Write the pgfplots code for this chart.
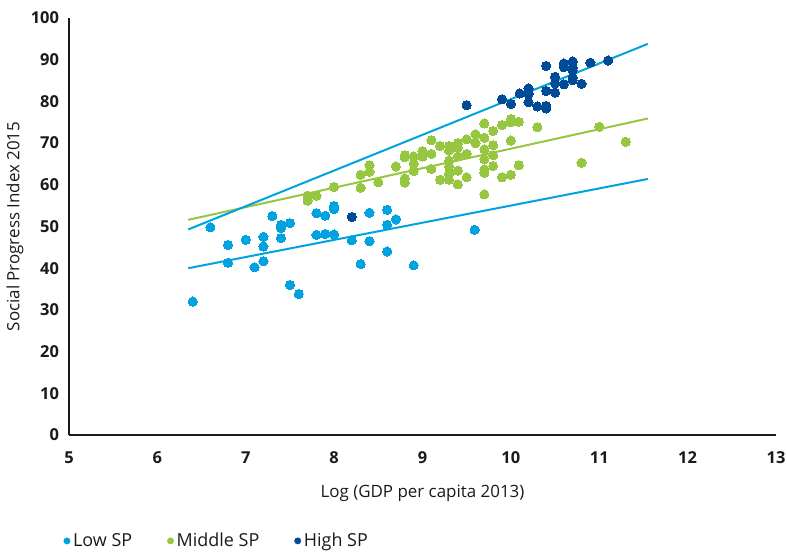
\documentclass[border=0pt]{standalone}
\usepackage{pgfplots}
\pgfplotsset{compat=1.18}
\usepackage{fontspec}
\setmainfont{Open Sans}
\definecolor{lowsp}{HTML}{00A3E0}
\definecolor{midsp}{HTML}{97C740}
\definecolor{highsp}{HTML}{004B98}
\definecolor{txt}{HTML}{1A1A1A}
\begin{document}
\begin{tikzpicture}
\path[use as bounding box] (-69bp,-119bp) rectangle (718bp,435bp);
\begin{axis}[
  scale only axis, width=707bp, height=417bp,
  xmin=5, xmax=13, ymin=0, ymax=100,
  axis x line=bottom, axis y line=left,
  axis line style={-, line width=1.5bp, color=txt},
  xtick={5,...,13}, ytick={0,10,...,100},
  major tick length=0pt,
  /pgf/number format/assume math mode=true,
  tick label style={font=\fontsize{16.5}{18}\selectfont\bfseries, color=txt},
  xticklabel style={yshift=-13bp},
  yticklabel style={xshift=-6.5bp},
  xlabel={Log (GDP per capita 2013)},
  ylabel={Social Progress Index 2015},
  every axis x label/.style={at={(axis description cs:0.5,-0.139)}, anchor=center,
    font=\fontsize{17}{19}\selectfont, color=txt},
  every axis y label/.style={at={(axis description cs:-0.0764,0.5)}, rotate=90, anchor=center,
    font=\fontsize{17}{19}\selectfont, color=txt},
  legend style={draw=none, fill=none, at={(axis description cs:-0.008,-0.254)}, anchor=west,
    legend columns=3, font=\fontsize{18}{20}\selectfont, text=txt, inner sep=0pt,
    /tikz/every even column/.append style={column sep=33bp}},
  clip=false,
]
\addplot[lowsp, line width=2bp, forget plot] coordinates {(6.35,40.0) (11.55,61.4)};
\addplot[midsp, line width=2bp, forget plot] coordinates {(6.35,51.6) (11.55,75.9)};
\addplot[lowsp, line width=2bp, forget plot] coordinates {(6.35,49.3) (11.55,93.8)};
\addplot[only marks, mark=*, mark size=4.6bp, color=lowsp, mark options={draw=lowsp, fill=lowsp, line width=0pt},
  legend image code/.code={\fill[lowsp] (2bp,0bp) circle (3.2bp); \path (6bp,0bp);}] coordinates {
(6.40,32.0) (6.60,49.8) (6.80,45.6) (6.80,41.3) (7.00,46.8) (7.10,40.2)
(7.20,47.5) (7.20,45.2) (7.20,41.7) (7.30,52.5) (7.40,50.4) (7.40,49.6)
(7.40,47.2) (7.50,50.8) (7.50,36.0) (7.60,33.8) (7.80,53.2) (7.80,48.0)
(7.90,52.6) (7.90,48.2) (8.00,54.9) (8.00,54.2) (8.00,48.1) (8.20,46.7)
(8.30,41.0) (8.40,53.3) (8.40,46.5) (8.60,54.0) (8.60,50.4) (8.60,44.0)
(8.70,51.7) (8.90,40.7) (9.59,49.2)
};
\addlegendentry{Low SP}
\addplot[only marks, mark=*, mark size=4.6bp, color=midsp, mark options={draw=midsp, fill=midsp, line width=0pt},
  legend image code/.code={\fill[midsp] (2bp,0bp) circle (3.2bp); \path (6bp,0bp);}] coordinates {
(7.70,57.4) (7.70,56.2) (7.80,57.4) (8.00,59.5) (8.30,59.3) (8.50,60.6) (8.80,60.5)
(8.30,62.4) (8.40,64.7) (8.40,63.1) (8.70,64.4) (8.80,67.1) (8.80,66.6) (8.80,61.5)
(8.90,66.8) (8.90,65.1) (8.90,63.3) (9.00,68.1) (9.00,66.8) (9.10,70.7) (9.10,67.4)
(9.10,63.8) (9.20,69.3) (9.20,61.2) (9.30,69.3) (9.30,68.2) (9.30,65.8) (9.30,64.4)
(9.30,62.6) (9.30,61.2) (9.40,70.0) (9.40,68.9) (9.40,66.8) (9.40,63.4) (9.40,60.1)
(9.50,70.9) (9.50,67.4) (9.50,61.8) (9.60,72.1) (9.60,70.0) (9.70,74.7) (9.70,71.3)
(9.70,68.5) (9.70,66.1) (9.70,63.7) (9.70,62.9) (9.70,57.7) (9.80,72.9) (9.80,69.5)
(9.80,67.1) (9.80,64.5) (9.90,74.3) (9.90,61.8) (10.00,75.8) (10.00,75.0) (10.00,70.6)
(10.00,62.4) (10.09,75.1) (10.09,64.7) (10.30,73.8) (11.00,73.9) (11.30,70.3) (10.80,65.3)
};
\addlegendentry{Middle SP}
\addplot[only marks, mark=*, mark size=4.6bp, color=highsp, mark options={draw=highsp, fill=highsp, line width=0pt},
  legend image code/.code={\fill[highsp] (2bp,0bp) circle (3.2bp); \path (6bp,0bp);}] coordinates {
(8.20,52.3) (9.50,79.1) (9.90,80.5) (10.00,79.4) (10.10,81.9) (10.20,83.1) (10.20,81.8)
(10.20,79.8) (10.30,78.8) (10.40,88.5) (10.40,82.5) (10.40,78.9) (10.40,78.3)
(10.50,85.9) (10.50,84.3) (10.50,82.1) (10.60,89.1) (10.60,88.2) (10.60,84.1)
(10.70,89.6) (10.70,88.2) (10.70,87.5) (10.70,85.7) (10.70,85.1) (10.80,84.2)
(10.90,89.3) (11.10,89.8)
};
\addlegendentry{High SP}
\end{axis}
\end{tikzpicture}
\end{document}
